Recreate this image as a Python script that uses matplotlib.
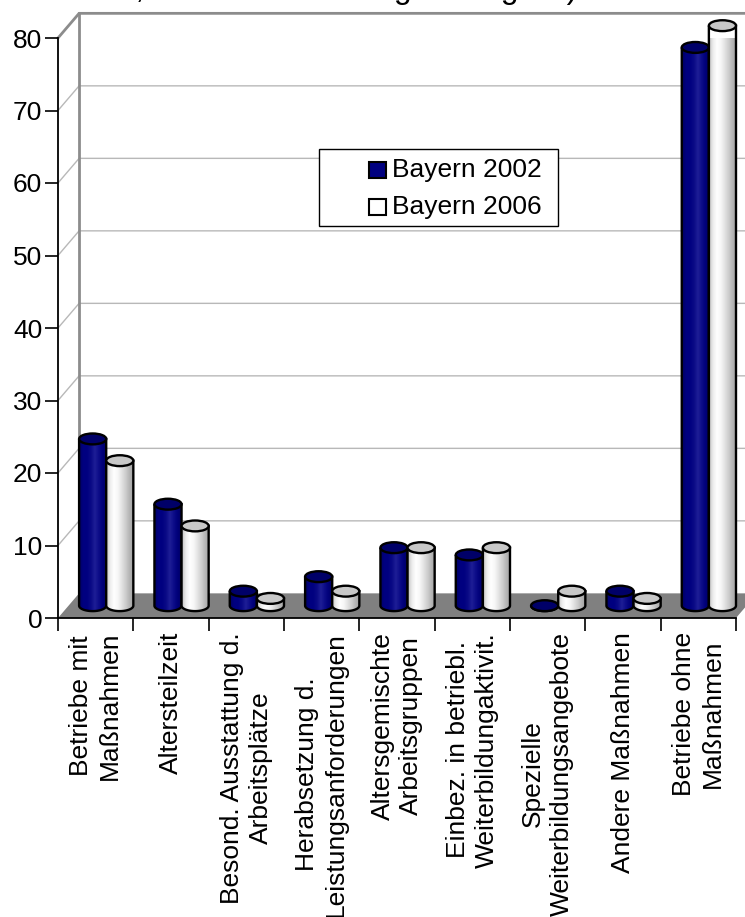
import numpy as np
import matplotlib
matplotlib.use('Agg')
import matplotlib.pyplot as plt
from matplotlib.patches import Polygon, Ellipse, PathPatch, Rectangle
from matplotlib.path import Path
from matplotlib.colors import LinearSegmentedColormap

plt.rcParams['font.family'] = ['Liberation Sans', 'DejaVu Sans']

# Anteil der Betriebe in %
kategorien = ['Betriebe mit\nMaßnahmen', 'Altersteilzeit',
              'Besond. Ausstattung d.\nArbeitsplätze',
              'Herabsetzung d.\nLeistungsanforderungen',
              'Altersgemischte\nArbeitsgruppen',
              'Einbez. in betriebl.\nWeiterbildungaktivit.',
              'Spezielle\nWeiterbildungsangebote', 'Andere Maßnahmen',
              'Betriebe ohne\nMaßnahmen']
bayern_2002 = [23, 14, 2, 4, 8, 7, 0, 2, 77]
bayern_2006 = [20, 11, 1, 2, 8, 8, 2, 1, 80]
serien = ['Bayern 2002', 'Bayern 2006']
y_ticks = list(range(0, 90, 10))

W, H = 745, 917
FS = 19
DX, DY = 0.28, 3.4      # Tiefenversatz der Rückwand (x in Kategorien, y in %)
BAR_W = 0.36
ELL_H = 1.5

blau = LinearSegmentedColormap.from_list(
    'blau', ['#000060', '#000080', '#000080', '#0a0a86', '#1e1e96',
             '#0c0c88', '#000078', '#000062'])
weiss = LinearSegmentedColormap.from_list(
    'weiss', ['#c4c4c4', '#eeeeee', '#ffffff', '#f6f6f6', '#e2e2e2',
              '#cccccc', '#b4b4b4', '#a0a0a0'])
stile = [dict(cmap=blau, top='#000068'), dict(cmap=weiss, top='#c8c8c8')]

fig = plt.figure(figsize=(W / 100, H / 100), dpi=100)
ax = fig.add_axes([58 / W, (H - 618) / H, (736 - 58) / W, (618 - 38) / H])
ax.set_facecolor('none')

# Wände, Gitter und Boden
for v in y_ticks[1:-1]:
    ax.plot([0, DX, 9.5], [v, v + DY, v + DY], color='#b8b8b8', lw=1,
            clip_on=False, zorder=0)
ax.plot([0, DX, 9.5], [80, 80 + DY, 80 + DY], color='#8c8c8c', lw=2,
        clip_on=False, zorder=0.5)
ax.plot([DX, DX], [DY, 80 + DY], color='#8c8c8c', lw=2, clip_on=False,
        zorder=0.5)
ax.add_patch(Polygon([(0, 0), (9, 0), (9 + DX, DY), (DX, DY)],
                     closed=True, facecolor='#808080', edgecolor='none',
                     clip_on=False, zorder=1))


def zylinder(cx, base, wert, stil, z):
    x0, x1 = cx - BAR_W / 2, cx + BAR_W / 2
    top = base + wert
    t = np.linspace(np.pi, 2 * np.pi, 40)
    verts = [(x0, top), (x0, base)]
    verts += list(zip(cx + BAR_W / 2 * np.cos(t), base + ELL_H / 2 * np.sin(t)))
    verts += [(x1, top), (x0, top)]
    umriss = Path(verts, closed=False)
    maske = PathPatch(umriss, facecolor='none', edgecolor='none', zorder=z)
    ax.add_patch(maske)
    grad = np.linspace(0, 1, 64)[None, :]
    im = ax.imshow(grad, extent=[x0, x1, base - ELL_H / 2, top], aspect='auto',
                   cmap=stil['cmap'], interpolation='bilinear', zorder=z)
    im.set_clip_path(maske)
    ax.add_patch(PathPatch(umriss, facecolor='none', edgecolor='black', lw=1.7,
                           zorder=z + 0.001, clip_on=False))
    ax.add_patch(Ellipse((cx, top), BAR_W, ELL_H, facecolor=stil['top'],
                         edgecolor='black', lw=1.7, zorder=z + 0.002,
                         clip_on=False))


for i in range(len(kategorien)):
    for j, werte in enumerate([bayern_2002, bayern_2006]):
        cx = i + 0.5 + DX / 2 + (j - 0.5) * BAR_W
        zylinder(cx, DY / 2, werte[i], stile[j], 3 + i * 0.1 + j * 0.01)

ax.set_xlim(0, 9)
ax.set_ylim(0, 80)

for s in ['top', 'right']:
    ax.spines[s].set_visible(False)
for s in ['left', 'bottom']:
    ax.spines[s].set_color('black')
    ax.spines[s].set_linewidth(1.3)
    ax.spines[s].set_zorder(2)

ax.set_yticks(y_ticks)
ax.set_yticklabels([str(v) for v in y_ticks], fontsize=FS)
ax.tick_params(axis='y', direction='out', length=9.4, width=1.2, pad=2)
ax.set_xticks(range(10))
ax.set_xticklabels([])
ax.tick_params(axis='x', which='major', direction='out', length=9.4, width=1.2)
ax.set_xticks(np.arange(9) + 0.5, minor=True)
ax.set_xticklabels(kategorien, minor=True, rotation=90, fontsize=FS,
                   linespacing=1.25)
ax.tick_params(axis='x', which='minor', length=0, pad=10)
for lbl in ax.get_xticklabels(minor=True):
    lbl.set_multialignment('center')

# Legende
def px(x, y):
    return x / W, (H - y) / H

fig.add_artist(Rectangle(px(319, 226), 239 / W, 77 / H, transform=fig.transFigure,
                         facecolor='white', edgecolor='black', lw=1, zorder=10))
for k, (name, farbe) in enumerate(zip(serien, ['#000080', 'white'])):
    yc = 170 + k * 37
    fig.add_artist(Rectangle(px(369, yc + 8), 17 / W, 16 / H,
                             transform=fig.transFigure, facecolor=farbe,
                             edgecolor='black', lw=1.5, zorder=11))
    fig.text(*px(392, yc), name, fontsize=FS, va='center', ha='left', zorder=11)

fig.text(73 / W, 1 + 2 / H, 'in %, Mehrfachnennungen möglich)', fontsize=23,
         ha='left', va='baseline')

fig.savefig('out.png', dpi=100)
